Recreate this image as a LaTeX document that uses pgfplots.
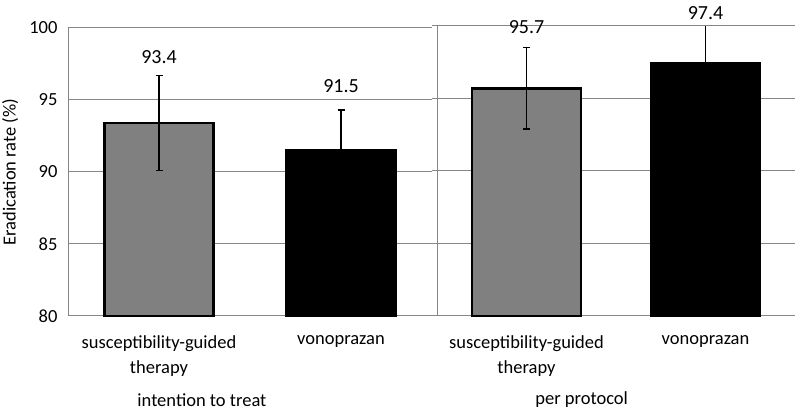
\documentclass[border=0pt]{standalone}
\usepackage{fontspec}
\setmainfont{Carlito}
\usepackage{pgfplots}
\pgfplotsset{compat=1.18}
\definecolor{gridgray}{RGB}{134,134,134}
\definecolor{bargray}{RGB}{128,128,128}

\pgfplotsset{panel/.style={
  scale only axis, anchor=south west,
  ymin=80, ymax=100, ytick={80,85,90,95,100},
  xmin=-0.5, xmax=1.5, xtick={0,1},
  xticklabels={{susceptibility-guided\\therapy},vonoprazan},
  xticklabel style={align=center, font=\fontsize{18.5}{25}\selectfont, yshift=-16pt},
  yticklabel style={font=\fontsize{18.5}{22}\selectfont, xshift=-7pt},
  /pgf/number format/assume math mode=true,
  ymajorgrids, major grid style={gridgray, line width=1pt},
  axis x line*=bottom, axis y line*=left,
  axis line style={gridgray, line width=1pt},
  x tick style={draw=none},
  xlabel style={font=\fontsize{18.5}{22}\selectfont, anchor=center},
  clip=false,
  error bars/y dir=both, error bars/y explicit,
  error bars/error bar style={black, line width=1.3pt},
  error bars/error mark options={black, line width=1.3pt, mark size=3.5pt, rotate=90},
  valbar/.style={ybar, bar width=109pt, draw=black, line width=2.8pt},
  vallabel/.style={only marks, mark=none, nodes near coords,
    point meta=explicit symbolic,
    every node near coord/.append style={anchor=center, black,
      font=\fontsize{20}{24}\selectfont}},
}}

\begin{document}
\begin{tikzpicture}
\useasboundingbox (0,0) rectangle (795pt,414pt);

% intention to treat
\begin{axis}[panel,
  at={(68pt,98pt)}, width=364pt, height=288pt,
  y tick style={draw=none},
  yticklabels={80,85,90,95,100},
  ylabel={Eradication rate (\%)},
  ylabel style={font=\fontsize{18.5}{22}\selectfont,
    at={(axis description cs:-0.159,0.5)}, anchor=center},
  xlabel={intention to treat},
  xlabel style={at={(axis description cs:0.368,0)}, yshift=-84pt}]
\addplot[valbar, fill=bargray] coordinates {(0,93.4) += (0,3.3) -= (0,3.3)};
\addplot[valbar, fill=black] coordinates {(1,91.5) += (0,2.8) -= (0,2.8)};
\addplot[vallabel] coordinates {(0,98.0) [93.4] (1,96.0) [91.5]};
\end{axis}

% per protocol
\begin{axis}[panel,
  at={(437pt,98pt)}, width=358pt, height=290pt,
  yticklabels={}, tick align=outside, major tick length=5pt,
  y tick style={gridgray, line width=1pt},
  xticklabel style={yshift=5pt},
  xlabel={per protocol},
  xlabel style={at={(axis description cs:0.404,0)}, yshift=-84pt}]
\addplot[valbar, fill=bargray] coordinates {(0,95.7) += (0,2.8) -= (0,2.8)};
\addplot[valbar, fill=black, error bars/error mark=none] coordinates {(1,97.4) += (0,2.6) -= (0,2.6)};
\addplot[vallabel] coordinates {(0,99.9) [95.7] (1,100.9) [97.4]};
\end{axis}
\end{tikzpicture}
\end{document}
